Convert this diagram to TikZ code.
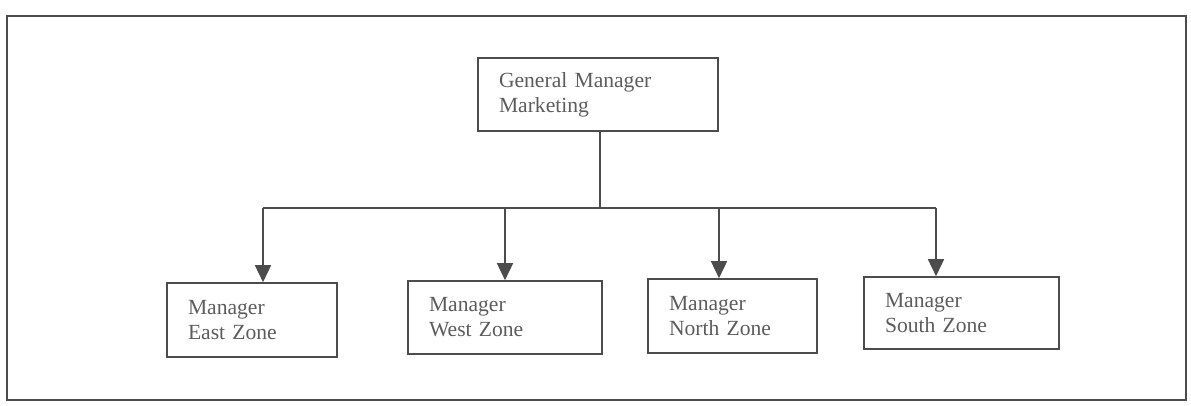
\documentclass[tikz,border=0pt]{standalone}
\usepackage{fontspec}
\setmainfont{Liberation Serif}
\usetikzlibrary{arrows.meta}
\definecolor{inkline}{gray}{0.30}
\definecolor{inktext}{gray}{0.36}
\begin{document}
\begin{tikzpicture}[x=1pt,y=-1pt,
  ink/.style={draw=inkline,line width=1.6pt},
  postbox/.style={ink,rectangle,inner xsep=21pt,inner ysep=0pt,
    align=left,text=inktext,
    font=\fontsize{21.6}{25}\selectfont},
  arr/.style={ink,-{Triangle[length=17pt,width=16pt]}}]
  \useasboundingbox (0,0) rectangle (1191,406);
  % outer frame
  \draw[ink] (7,16) rectangle (1186,400);

  % head of the chart
  \node[postbox,text width=198pt,minimum height=73pt] (gm) at (598,94.5)
    {General Manager\\Marketing};

  % zone managers
  \node[postbox,text width=128pt,minimum height=74pt] (east)  at (252,320)
    {Manager\\East Zone};
  \node[postbox,text width=152pt,minimum height=73pt] (west)  at (505,317.5)
    {Manager\\West Zone};
  \node[postbox,text width=127pt,minimum height=74pt] (north) at (732.5,316)
    {Manager\\North Zone};
  \node[postbox,text width=153pt,minimum height=72pt] (south) at (961.5,313)
    {Manager\\South Zone};

  % distribution bus
  \coordinate (stem) at (600,208);
  \coordinate (bE) at (263,208);
  \coordinate (bW) at (505,208);
  \coordinate (bN) at (719,208);
  \coordinate (bS) at (936,208);

  \draw[ink] (stem |- gm.south) -- (stem);
  \draw[ink] (bE) -- (bS);
  \draw[arr] (bE) -- (bE |- east.north);
  \draw[arr] (bW) -- (bW |- west.north);
  \draw[arr] (bN) -- (bN |- north.north);
  \draw[arr] (bS) -- (bS |- south.north);
\end{tikzpicture}
\end{document}
